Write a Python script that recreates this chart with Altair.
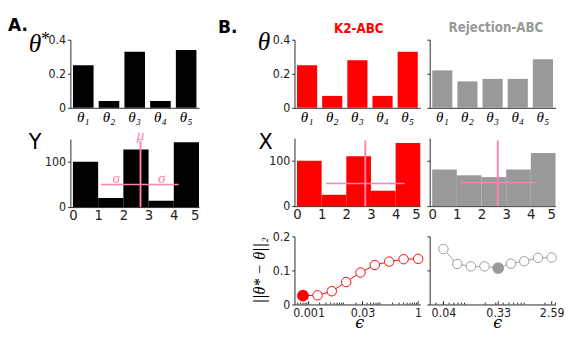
import altair as alt
import pandas as pd

# ---------------- data ----------------
theta_names = ["θ₁", "θ₂", "θ₃", "θ₄", "θ₅"]
theta_true = [0.25, 0.04, 0.33, 0.04, 0.34]
theta_k2 = [0.25, 0.07, 0.28, 0.07, 0.33]
theta_rej = [0.22, 0.155, 0.17, 0.17, 0.285]

bin_lo = [0, 1, 2, 3, 4]
bin_hi = [1, 2, 3, 4, 5]
counts_y = [100, 20, 127, 14, 143]
counts_k2 = [100, 25, 110, 34, 139]
counts_rej = [81, 68, 64, 81, 117]

# summary statistics drawn in pink: mean (vertical) and mean +/- sd (horizontal)
stat_mu = [2.68, 2.77, 2.66]
stat_lo = [1.12, 1.18, 1.13]
stat_hi = [4.19, 4.37, 4.20]
stat_level = [50, 50, 52]
stat_top = [146, 145, 145]

sigma_x = [1.72, 3.52]

eps_k2 = [0.0007, 0.00175, 0.0043, 0.0107, 0.0264, 0.065, 0.161, 0.40, 1.0]
err_k2 = [0.026, 0.027, 0.039, 0.066, 0.094, 0.116, 0.126, 0.133, 0.134]
best_k2 = 0
ticks_k2 = [0.001, 0.03, 1]

eps_rej = [0.04, 0.068, 0.115, 0.195, 0.33, 0.54, 0.90, 1.53, 2.59]
err_rej = [0.163, 0.119, 0.112, 0.112, 0.107, 0.120, 0.127, 0.137, 0.138]
best_rej = 4
ticks_rej = [0.04, 0.33, 2.59]

# ---------------- style ----------------
SANS = "'DejaVu Sans Condensed', 'DejaVu Sans', sans-serif"
PLAIN = "'DejaVu Sans', sans-serif"
SERIF = "'DejaVu Serif', serif"
MATH = "'Liberation Serif', 'DejaVu Serif', serif"
PINK = "#ff80b2"
RED = "#ff0000"
GRAY = "#999999"
INK = "#222222"
H = 72

# invisible frame of every panel (pixels around its plot area)
COL_X = {"A": (-66, 156), "B1": (-60, 138), "B2": (-5, 139)}
ROW_Y = {1: (-24, 92), 2: (-12, 92), 3: (-12, 96)}


def frame(col, row, width):
    x0, x1 = COL_X[col]
    y0, y1 = ROW_Y[row]
    return alt.Chart(pd.DataFrame({"f": [0]})).mark_rect(opacity=0).encode(
        x=alt.value(x0), x2=alt.value(x1), y=alt.value(y0), y2=alt.value(y1))


def y_axis(values, show_labels, fmt):
    return alt.Axis(values=values, format=fmt, grid=False, labels=show_labels,
                    tickSize=3, labelPadding=2, domainColor=INK, tickColor=INK,
                    labelColor=INK, labelFont=SANS, labelFontSize=13, title=None)


def txt(text, x, y, color, size, align="left", weight="bold", font=PLAIN,
        style="normal", angle=0):
    return alt.Chart(pd.DataFrame({"t": [text]})).mark_text(
        align=align, baseline="alphabetic", font=font, fontSize=size,
        fontWeight=weight, fontStyle=style, color=color, angle=angle
    ).encode(x=alt.value(x), y=alt.value(y), text="t:N")


def theta_panel(values, color, show_labels):
    df = pd.DataFrame({"param": theta_names, "value": values})
    return alt.Chart(df).mark_bar(color=color).encode(
        x=alt.X("param:N", sort=theta_names,
                scale=alt.Scale(paddingInner=0.2, paddingOuter=0.1),
                axis=alt.Axis(title=None, labelAngle=0, ticks=False,
                              labelFont=MATH, labelFontStyle="italic",
                              labelFontSize=16, labelPadding=2,
                              domainColor=INK, labelColor="black")),
        y=alt.Y("value:Q", scale=alt.Scale(domain=[0, 0.4], nice=False),
                axis=y_axis([0, 0.2, 0.4], show_labels, "~g")),
    )


def hist_layers(counts, color, k, show_labels):
    df = pd.DataFrame({"lo": bin_lo, "hi": bin_hi, "n": counts,
                       "base": [0] * len(counts)})
    xs = alt.Scale(domain=[-0.1, 5], nice=False, zero=False)
    ys = alt.Scale(domain=[0, 150], nice=False)
    xaxis = alt.Axis(values=[0, 1, 2, 3, 4, 5], title=None, grid=False,
                     ticks=False, labelPadding=2, domainColor=INK,
                     labelColor=INK, labelFontSize=14, labelFont=PLAIN)
    yaxis = y_axis([0, 100], show_labels, "d")

    def X(f):
        return alt.X(f, scale=xs, axis=xaxis)

    def Y(f):
        return alt.Y(f, scale=ys, axis=yaxis)

    bars = alt.Chart(df).mark_bar(color=color).encode(
        x=X("lo:Q"), x2="hi:Q", y=Y("n:Q"), y2="base:Q")
    st = pd.DataFrame({"mu": [stat_mu[k]], "lo": [stat_lo[k]], "hi": [stat_hi[k]],
                       "top": [stat_top[k]], "lvl": [stat_level[k]], "base": [0]})
    vline = alt.Chart(st).mark_rule(color=PINK, strokeWidth=2).encode(
        x=X("mu:Q"), y=Y("base:Q"), y2="top:Q")
    hline = alt.Chart(st).mark_rule(color=PINK, strokeWidth=1.6).encode(
        x=X("lo:Q"), x2="hi:Q", y=Y("lvl:Q"))
    return [bars, hline, vline], X, Y


def err_layers(eps, err, best, color, domain, ticks, show_labels):
    df = pd.DataFrame({"eps": eps, "err": err})
    df_open = df.drop(index=best)
    df_best = df.iloc[[best]]
    xs = alt.Scale(type="log", domain=domain, nice=False)
    ys = alt.Scale(domain=[0, 0.2], nice=False)
    xaxis = alt.Axis(values=ticks, format="~g", ticks=False, grid=False,
                     labelPadding=3, domainColor=INK, labelColor=INK,
                     labelFont=SANS, labelFontSize=13, title=None)
    yaxis = y_axis([0, 0.1, 0.2], show_labels, "~g")

    def X(f):
        return alt.X(f, scale=xs, axis=xaxis)

    def Y(f):
        return alt.Y(f, scale=ys, axis=yaxis)

    lo, hi = domain
    minor = []
    for e in range(-5, 2):
        for m in range(2, 10):
            v = m * 10.0 ** e
            if lo <= v <= hi:
                minor.append(v)
    # inward tick marks along the log axis (lengths in data units of y)
    tk = pd.DataFrame({"v": minor + list(ticks),
                       "y0": [0.0] * (len(minor) + len(ticks)),
                       "y1": [0.0055] * len(minor) + [0.0095] * len(ticks)})
    tick_layer = alt.Chart(tk).mark_rule(color=INK, strokeWidth=1).encode(
        x=X("v:Q"), y=Y("y0:Q"), y2="y1:Q")
    line = alt.Chart(df).mark_line(color=color, strokeWidth=1).encode(
        x=X("eps:Q"), y=Y("err:Q"))
    opn = alt.Chart(df_open).mark_point(
        shape="circle", filled=True, fill="white", stroke=color, strokeWidth=1,
        size=100, opacity=1).encode(x=X("eps:Q"), y=Y("err:Q"))
    bst = alt.Chart(df_best).mark_point(
        shape="circle", filled=True, fill=color, stroke=color, size=110,
        opacity=1).encode(x=X("eps:Q"), y=Y("err:Q"))
    return [tick_layer, line, opn, bst]


# ---------------- column A ----------------
A1 = alt.layer(
    theta_panel(theta_true, "black", True),
    txt("A.", -66, -9, "black", 18),
    txt("B.", 156, -7, "black", 18),
    txt("θ", -44, 13, "black", 27, weight="normal", font=MATH, style="italic"),
    txt("*", -31, 6, "black", 19, weight="normal", font=MATH),
    frame("A", 1, 136),
).properties(width=136, height=H)

layersA, XA, YA = hist_layers(counts_y, "black", 0, True)
ann = pd.DataFrame({"x": [stat_mu[0]] + sigma_x,
                    "y": [stat_top[0], stat_level[0], stat_level[0]],
                    "t": ["μ", "σ", "σ"]})
ann_layer = alt.Chart(ann).mark_text(
    color=PINK, font=MATH, fontStyle="italic", fontSize=16, baseline="middle",
    dy=-6).encode(x=XA("x:Q"), y=YA("y:Q"), text="t:N")

A2 = alt.layer(*layersA, ann_layer,
               txt("Y", -44, 11, "black", 22, weight="normal"),
               frame("A", 2, 136),
               ).properties(width=136, height=H)

# ---------------- column B1 (K2-ABC) ----------------
B1a = alt.layer(
    theta_panel(theta_k2, RED, True),
    txt("K2-ABC", 68, -7, RED, 14, align="center", font=SANS),
    txt("θ", -39, 11, "black", 27, weight="normal", font=MATH, style="italic"),
    frame("B1", 1, 133),
).properties(width=133, height=H)
B1b = alt.layer(*hist_layers(counts_k2, RED, 1, True)[0],
                txt("X", -38, 12, "black", 22, weight="normal"),
                frame("B1", 2, 133),
                ).properties(width=133, height=H)
B1c = alt.layer(*err_layers(eps_k2, err_k2, best_k2, RED, [0.00041, 1.146],
                            ticks_k2, True),
                txt("||θ* − θ||₂", -31, 36, "black", 17, align="center",
                    weight="normal", font=MATH, style="italic", angle=270),
                txt("ϵ", 69, H + 25, "black", 17, align="center",
                    weight="normal", font=SERIF, style="italic"),
                frame("B1", 3, 133),
                ).properties(width=133, height=H)

# ---------------- column B2 (Rejection-ABC) ----------------
B2a = alt.layer(
    theta_panel(theta_rej, GRAY, False),
    txt("Rejection-ABC", 70, -8, GRAY, 14, align="center", font=SANS),
    frame("B2", 1, 133),
).properties(width=133, height=H)
B2b = alt.layer(*hist_layers(counts_rej, GRAY, 2, False)[0],
                frame("B2", 2, 133)).properties(width=133, height=H)
B2c = alt.layer(*err_layers(eps_rej, err_rej, best_rej, GRAY, [0.0236, 3.0],
                            ticks_rej, False),
                txt("ϵ", 72, H + 25, "black", 17, align="center",
                    weight="normal", font=SERIF, style="italic"),
                frame("B2", 3, 133),
                ).properties(width=133, height=H)

colA = alt.vconcat(A1, A2, spacing=0)
colB1 = alt.vconcat(B1a, B1b, B1c, spacing=0)
colB2 = alt.vconcat(B2a, B2b, B2c, spacing=0)

chart = alt.hconcat(colA, colB1, colB2, spacing=0).properties(
    padding=0
).configure_view(stroke=None).configure_axis(
    labelFont=SANS, labelFontSize=13, labelColor=INK
)

chart.save("out.html", embed_options={"renderer": "svg", "actions": False})
